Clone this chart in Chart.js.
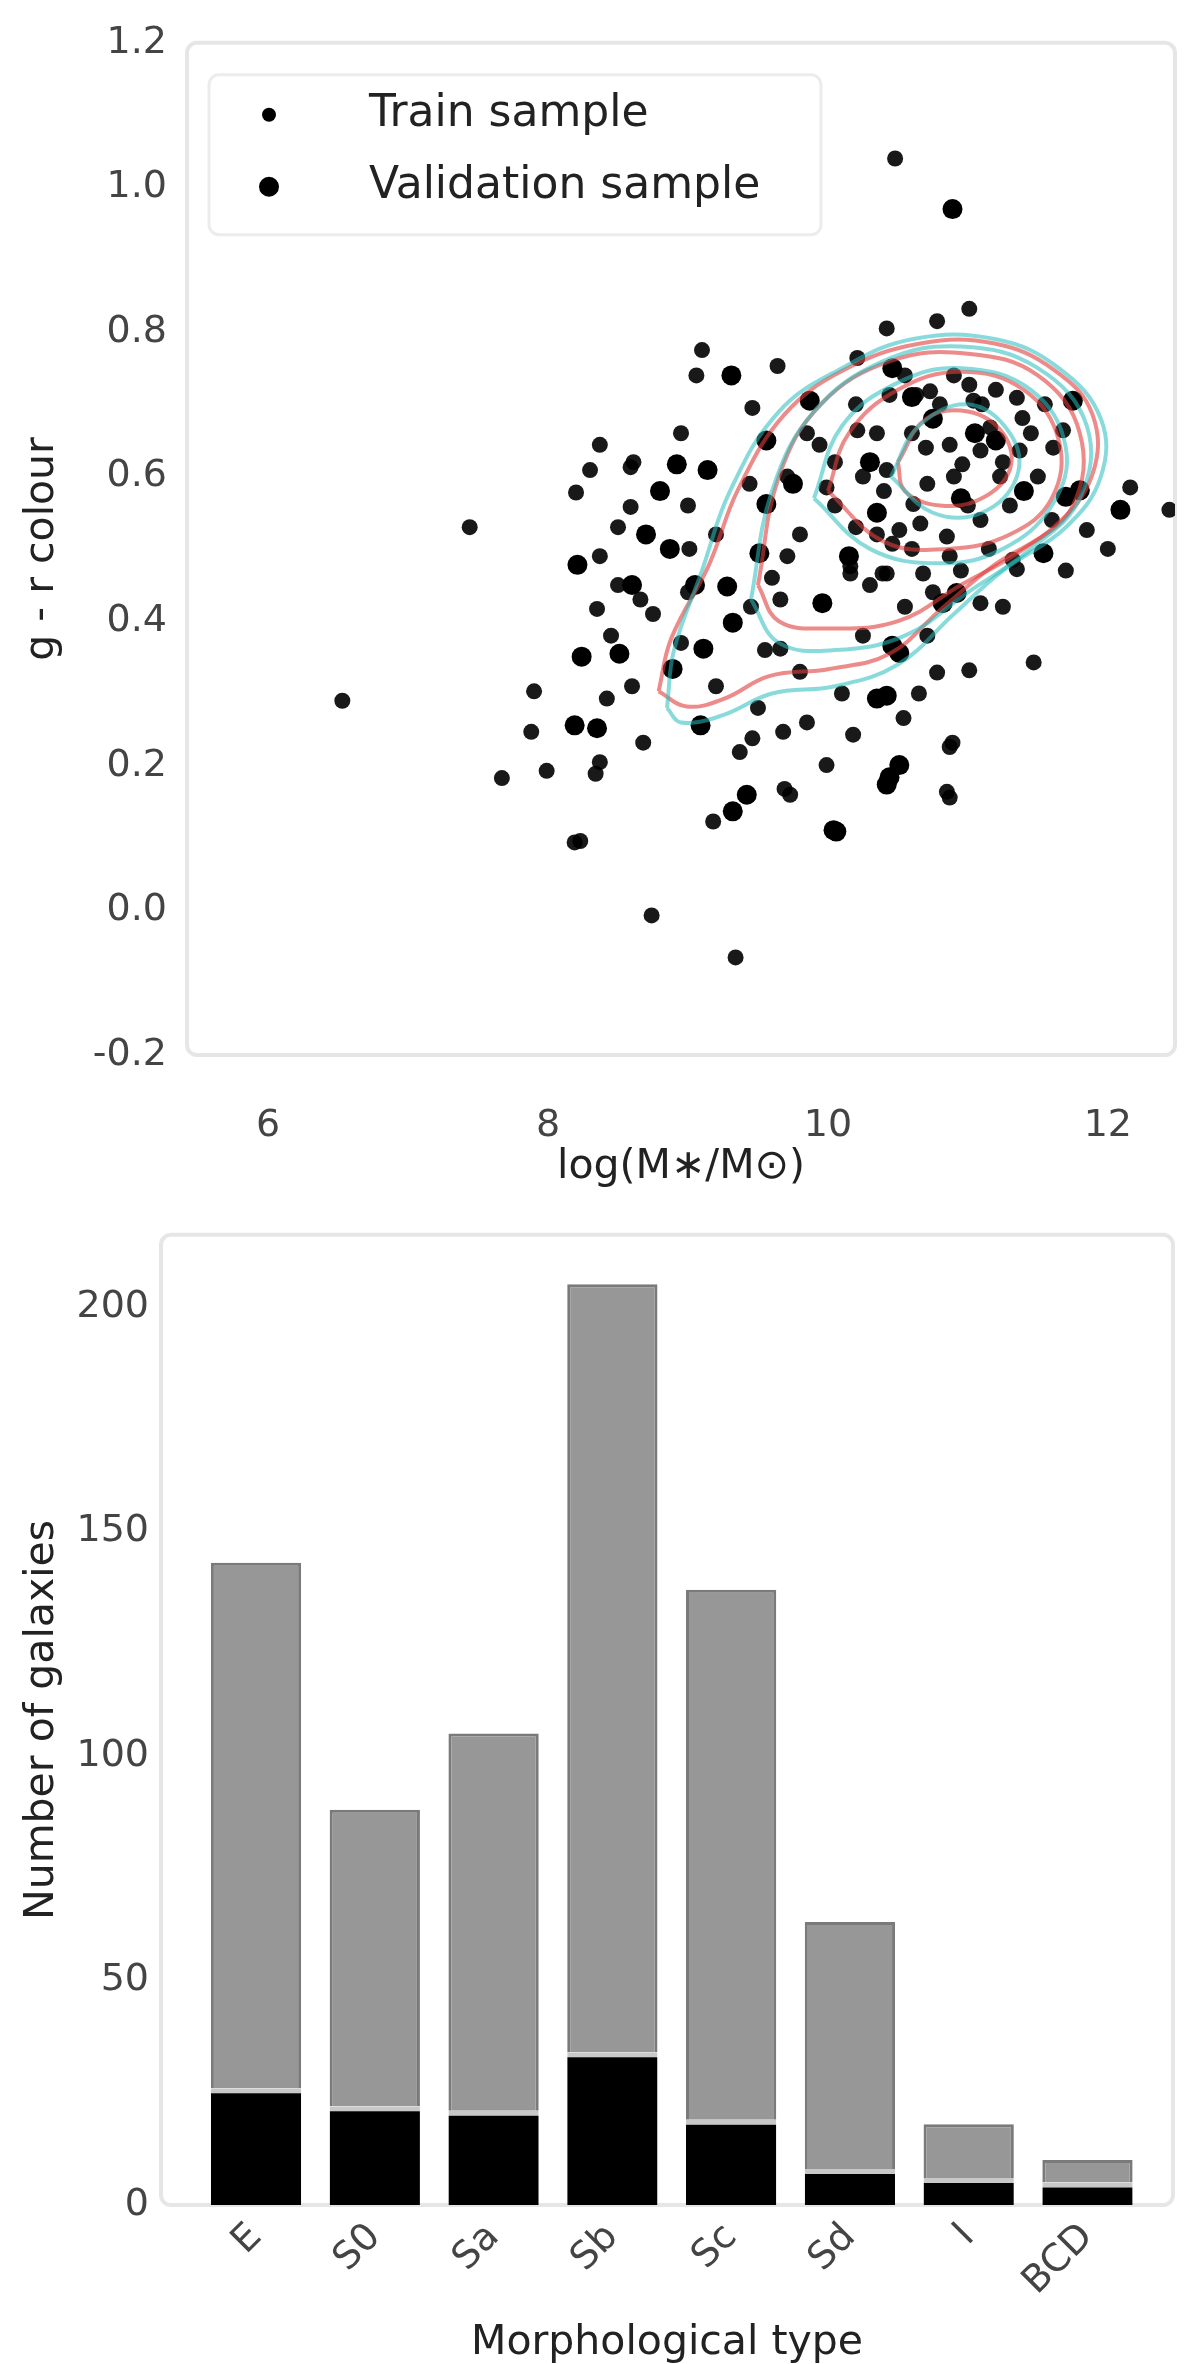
<!DOCTYPE html>
<html>
<head>
<meta charset="utf-8">
<script src="https://cdn.jsdelivr.net/npm/chart.js@4.4.0/dist/chart.umd.min.js"></script>
<style>
  html, body { margin: 0; padding: 0; background: #fff; }
  .box { position: relative; width: 1200px; }
  #scatterBox { height: 1200px; }
  #barBox { height: 1164px; }
</style>
</head>
<body>
<div class="box" id="scatterBox"><canvas id="scatterChart"></canvas></div>
<div class="box" id="barBox"><canvas id="barChart"></canvas></div>
<script>
// ---- scatter: stellar mass vs colour ----
const trainPoints = [
  [10.48, 1.04], [7.44, 0.53], [6.53, 0.29], [7.67, 0.183], [7.99, 0.193], [8.19, 0.094],
  [8.74, -0.007], [9.34, -0.065], [12.44, 0.554], [11.47, 0.343], [10.87, 0.226], [10.85, 0.164],
  [9.69, 0.168], [7.9, 0.303], [7.88, 0.247], [8.34, 0.189], [8.2, 0.578], [8.61, 0.62],
  [9.64, 0.753], [9.1, 0.775], [9.06, 0.74], [10.21, 0.764], [9.94, 0.644], [10.21, 0.664],
  [9.71, 0.6], [9.44, 0.59], [9.99, 0.585], [10.35, 0.52], [9.71, 0.49], [10.16, 0.476],
  [8.59, 0.613], [8.37, 0.644], [8.3, 0.609], [8.59, 0.558], [9.01, 0.5], [8.37, 0.49],
  [10.44, 0.713], [9.46, 0.695], [11.01, 0.832], [10.78, 0.815], [10.42, 0.805], [10.63, 0.713],
  [10.73, 0.718], [11.01, 0.727], [11.04, 0.705], [11.35, 0.709], [11.39, 0.681], [11.68, 0.664],
  [11.61, 0.64], [11.16, 0.668], [10.87, 0.644], [10.96, 0.617], [10.42, 0.609], [10.71, 0.59],
  [11.23, 0.6], [11.09, 0.636], [11.37, 0.636], [10.61, 0.562], [10.66, 0.535], [11.09, 0.54],
  [10.51, 0.526], [10.85, 0.517], [11.85, 0.526], [12.16, 0.585], [11.32, 0.485], [10.87, 0.49],
  [10.46, 0.507], [10.42, 0.466], [10.68, 0.466], [11.35, 0.472], [11.09, 0.425], [10.71, 0.38],
  [10.78, 0.329], [11.01, 0.332], [10.54, 0.266], [10.89, 0.232], [10.87, 0.156], [8.68, 0.232],
  [9.99, 0.201], [9.73, 0.16], [10.18, 0.243], [10.16, 0.466], [10.39, 0.466], [9.66, 0.43],
  [9.66, 0.362], [8.35, 0.417], [8.66, 0.43], [8.42, 0.293], [8.37, 0.205], [9.68, 0.247],
  [9.37, 0.219], [9.18, 0.123], [9.46, 0.238], [8.23, 0.096], [8.5, 0.45], [8.75, 0.41],
  [9.0, 0.44], [9.55, 0.36], [9.8, 0.33], [10.25, 0.38], [10.05, 0.56], [10.6, 0.66],
  [10.05, 0.62], [10.2, 0.7], [10.35, 0.66], [10.55, 0.74], [10.7, 0.64], [10.8, 0.7],
  [10.9, 0.74], [11.1, 0.7], [11.2, 0.72], [11.45, 0.66], [11.5, 0.6], [11.3, 0.56],
  [11.15, 0.5], [10.95, 0.47], [10.75, 0.44], [10.55, 0.42], [10.3, 0.45], [10.2, 0.53],
  [10.4, 0.58], [10.6, 0.5], [11.0, 0.56], [11.25, 0.62], [11.55, 0.7], [11.6, 0.54],
  [10.9, 0.6], [10.25, 0.6], [9.85, 0.66], [9.8, 0.52], [9.6, 0.46], [9.45, 0.42],
  [9.2, 0.52], [9.0, 0.56], [8.95, 0.66], [8.5, 0.53], [8.45, 0.38], [8.6, 0.31],
  [8.95, 0.37], [9.2, 0.31], [9.5, 0.28], [9.85, 0.26], [10.1, 0.3], [10.65, 0.3],
  [11.25, 0.42], [11.7, 0.47], [12.0, 0.5]
];
const validationPoints = [
  [10.89, 0.97], [12.09, 0.554], [10.04, 0.111], [8.19, 0.256], [8.24, 0.351], [8.21, 0.478],
  [9.31, 0.74], [9.87, 0.705], [9.56, 0.65], [9.56, 0.562], [8.92, 0.617], [9.14, 0.609],
  [8.8, 0.58], [8.7, 0.52], [8.87, 0.5], [9.51, 0.494], [10.3, 0.62], [10.46, 0.75],
  [11.75, 0.705], [11.7, 0.572], [11.8, 0.581], [11.54, 0.494], [10.92, 0.439], [10.82, 0.425],
  [10.51, 0.356], [10.42, 0.297], [10.51, 0.201], [10.42, 0.174], [8.51, 0.355], [8.89, 0.334],
  [9.09, 0.256], [8.35, 0.252], [9.11, 0.362], [9.32, 0.398], [9.28, 0.448], [9.96, 0.425],
  [10.35, 0.293], [9.42, 0.16], [9.32, 0.137], [10.06, 0.109], [10.44, 0.184], [10.46, 0.366],
  [10.95, 0.57], [11.2, 0.65], [10.75, 0.68], [10.6, 0.71], [11.05, 0.66], [10.35, 0.55],
  [11.4, 0.58], [10.15, 0.49], [9.75, 0.59], [9.05, 0.45], [8.6, 0.45]
];
// density contours (hand traced), outer to inner
const trainContours = [
  [[8.79, 0.303], [8.88, 0.376], [9.15, 0.478], [9.36, 0.583], [9.69, 0.686], [10.11, 0.747],
   [10.66, 0.784], [11.19, 0.784], [11.62, 0.747], [11.89, 0.686], [11.89, 0.603], [11.62, 0.531],
   [11.19, 0.478], [10.81, 0.417], [10.44, 0.355], [10.01, 0.334], [9.58, 0.324], [9.26, 0.293],
   [8.99, 0.282], [8.79, 0.303]],
  [[9.5, 0.45], [9.65, 0.6], [9.95, 0.7], [10.45, 0.76], [11.0, 0.77], [11.5, 0.74], [11.8, 0.66],
   [11.75, 0.56], [11.4, 0.5], [10.95, 0.45], [10.5, 0.4], [10.0, 0.39], [9.65, 0.4], [9.5, 0.45]],
  [[10.0, 0.58], [10.15, 0.66], [10.5, 0.72], [10.95, 0.745], [11.4, 0.72], [11.65, 0.65],
   [11.6, 0.57], [11.3, 0.52], [10.85, 0.5], [10.4, 0.51], [10.0, 0.58]],
  [[10.5, 0.62], [10.7, 0.68], [11.0, 0.69], [11.25, 0.66], [11.3, 0.61], [11.1, 0.57],
   [10.8, 0.56], [10.55, 0.58], [10.5, 0.62]]
];
const validationContours = [
  [[8.85, 0.28], [8.9, 0.36], [9.1, 0.47], [9.3, 0.58], [9.65, 0.69], [10.1, 0.75], [10.6, 0.79],
   [11.2, 0.79], [11.65, 0.75], [11.95, 0.68], [11.95, 0.6], [11.7, 0.53], [11.25, 0.47],
   [10.9, 0.41], [10.5, 0.34], [10.05, 0.31], [9.6, 0.3], [9.25, 0.27], [8.95, 0.26], [8.85, 0.28]],
  [[9.45, 0.43], [9.6, 0.58], [9.9, 0.69], [10.4, 0.76], [10.95, 0.78], [11.5, 0.75], [11.85, 0.67],
   [11.8, 0.57], [11.45, 0.5], [11.0, 0.44], [10.55, 0.38], [10.05, 0.36], [9.65, 0.37], [9.45, 0.43]],
  [[9.9, 0.57], [10.1, 0.67], [10.5, 0.73], [10.95, 0.75], [11.45, 0.72], [11.7, 0.64],
   [11.6, 0.56], [11.25, 0.5], [10.8, 0.48], [10.3, 0.5], [9.9, 0.57]],
  [[10.45, 0.6], [10.65, 0.67], [11.0, 0.7], [11.3, 0.66], [11.35, 0.6], [11.1, 0.55],
   [10.75, 0.55], [10.45, 0.6]]
];
const massTicks = [6, 8, 10, 12];
const colourTicks = [-0.2, 0, 0.2, 0.4, 0.6, 0.8, 1.0, 1.2];

// ---- bars: morphology ----
const morphTypes = ['E', 'S0', 'Sa', 'Sb', 'Sc', 'Sd', 'I', 'BCD'];
const validationCounts = [26, 22, 21, 34, 19, 8, 6, 5];
const trainCounts = [117, 66, 84, 171, 118, 55, 12, 5];
const countTicks = [0, 50, 100, 150, 200];

const FONT = "'DejaVu Sans', sans-serif";
const tickFont = { family: FONT, size: 38 };
const titleFont = { family: FONT, size: 41, lineHeight: 1 };

const toXY = arr => arr.map(p => ({ x: p[0], y: p[1] }));
const fmtColour = v => {
  const r = Math.round(v * 10) / 10;
  return r < 0 ? '-' + (-r).toFixed(1) : r.toFixed(1);
};

// light frame around the plot area
const framePlugin = {
  id: 'frame',
  beforeDraw(chart) {
    const { ctx, chartArea: a } = chart;
    ctx.save();
    ctx.strokeStyle = '#e6e6e6';
    ctx.lineWidth = 4;
    ctx.beginPath();
    ctx.roundRect(a.left, a.top, a.right - a.left, a.bottom - a.top, 10);
    ctx.stroke();
    ctx.restore();
  }
};

// legend drawn inside the plot area (upper left)
const innerLegend = {
  id: 'innerLegend',
  afterDraw(chart) {
    const { ctx, chartArea: a } = chart;
    const items = chart.data.datasets.filter(d => d.inLegend);
    ctx.save();
    ctx.fillStyle = 'rgba(255,255,255,0.85)';
    ctx.strokeStyle = '#ececec';
    ctx.lineWidth = 3;
    ctx.beginPath();
    ctx.roundRect(a.left + 22, a.top + 32, 612, 160, 10);
    ctx.fill();
    ctx.stroke();
    ctx.font = '44px ' + FONT;
    ctx.textBaseline = 'middle';
    items.forEach((d, i) => {
      const y = a.top + 72 + i * 72;
      ctx.fillStyle = '#000';
      ctx.beginPath();
      ctx.arc(a.left + 82, y, d.legendRadius, 0, Math.PI * 2);
      ctx.fill();
      ctx.fillStyle = '#222';
      ctx.fillText(d.label, a.left + 182, y);
    });
    ctx.restore();
  }
};

const contourSets = [];
trainContours.forEach(c => contourSets.push({
  data: toXY(c), showLine: true, pointRadius: 0, tension: 0.4,
  borderColor: 'rgba(225,60,60,0.6)', borderWidth: 4, order: 1
}));
validationContours.forEach(c => contourSets.push({
  data: toXY(c), showLine: true, pointRadius: 0, tension: 0.4,
  borderColor: 'rgba(40,190,190,0.55)', borderWidth: 4, order: 0
}));

new Chart(document.getElementById('scatterChart'), {
  type: 'scatter',
  data: {
    datasets: [
      {
        label: 'Train sample', inLegend: true, legendRadius: 7, data: toXY(trainPoints),
        pointRadius: 8, backgroundColor: 'rgba(0,0,0,0.9)', borderWidth: 0, order: 3
      },
      {
        label: 'Validation sample', inLegend: true, legendRadius: 10, data: toXY(validationPoints),
        pointRadius: 10, backgroundColor: '#000', borderWidth: 0, order: 2
      }
    ].concat(contourSets)
  },
  options: {
    responsive: true,
    maintainAspectRatio: false,
    animation: false,
    layout: { padding: { left: 0, right: 25, top: 26, bottom: 0 } },
    plugins: { legend: { display: false }, tooltip: { enabled: false } },
    scales: {
      x: {
        type: 'linear', min: 5.42, max: 12.48,
        afterBuildTicks: s => { s.ticks = massTicks.map(v => ({ value: v })); },
        afterFit: s => { s.height = 145; },
        grid: { display: false, drawTicks: false },
        border: { display: false },
        ticks: { font: tickFont, color: '#444', padding: 48, callback: v => String(v) },
        title: { display: true, text: 'log(M\u2217/M\u2299)', font: titleFont, color: '#222', padding: { bottom: 12 } }
      },
      y: {
        min: -0.2, max: 1.2,
        afterBuildTicks: s => { s.ticks = colourTicks.map(v => ({ value: v })); },
        afterFit: s => { s.width = 187; },
        grid: { display: false, drawTicks: false },
        border: { display: false },
        ticks: { font: tickFont, color: '#444', padding: 20, callback: fmtColour },
        title: { display: true, text: 'g - r colour', font: titleFont, color: '#222', padding: { top: 22 } }
      }
    }
  },
  plugins: [framePlugin, innerLegend]
});

new Chart(document.getElementById('barChart'), {
  type: 'bar',
  data: {
    datasets: [
      {
        label: 'Validation sample', data: validationCounts.map((v, i) => ({ x: i, y: v })),
        backgroundColor: '#000', borderColor: '#c8c8c8',
        borderWidth: { top: 5, left: 0, right: 0, bottom: 0 }, borderSkipped: 'bottom',
        barPercentage: 0.76, categoryPercentage: 1
      },
      {
        label: 'Train sample', data: trainCounts.map((v, i) => ({ x: i, y: v })),
        backgroundColor: '#979797', borderColor: '#7a7a7a', borderWidth: 3,
        barPercentage: 0.76, categoryPercentage: 1
      }
    ]
  },
  options: {
    responsive: true,
    maintainAspectRatio: false,
    animation: false,
    layout: { padding: { left: 0, right: 27, top: 33, bottom: 0 } },
    plugins: { legend: { display: false }, tooltip: { enabled: false } },
    scales: {
      x: {
        type: 'linear', stacked: true, min: -0.8, max: 7.72, offset: false,
        afterBuildTicks: s => { s.ticks = morphTypes.map((t, i) => ({ value: i })); },
        afterFit: s => { s.height = 159; },
        grid: { display: false, drawTicks: false },
        border: { display: false },
        ticks: { font: tickFont, color: '#444', padding: 10, minRotation: 45, maxRotation: 45,
                 callback: v => morphTypes[v] },
        title: { display: true, text: 'Morphological type', font: titleFont, color: '#222', padding: { bottom: 0 } }
      },
      y: {
        stacked: true, min: 0, max: 216,
        afterBuildTicks: s => { s.ticks = countTicks.map(v => ({ value: v })); },
        afterFit: s => { s.width = 161; },
        grid: { display: false, drawTicks: false },
        border: { display: false },
        ticks: { font: tickFont, color: '#444', padding: 12 },
        title: { display: true, text: 'Number of galaxies', font: titleFont, color: '#222', padding: { top: 22 } }
      }
    }
  },
  plugins: [framePlugin]
});
</script>
</body>
</html>
